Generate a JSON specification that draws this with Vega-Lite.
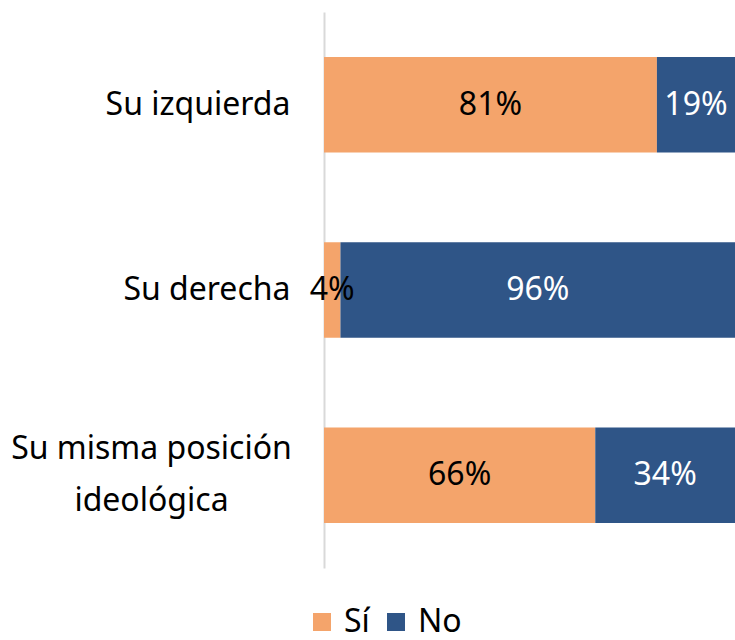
{
  "$schema": "https://vega.github.io/schema/vega-lite/v6.json",
  "autosize": "none",
  "width": 411,
  "height": 556,
  "padding": {"left": 324, "top": 12, "right": 0, "bottom": 72},
  "background": "white",
  "config": {
    "font": "Noto Sans",
    "view": {"stroke": null}
  },
  "data": {
    "values": [
      {"categoria": "Su izquierda", "respuesta": "Sí", "valor": 81},
      {"categoria": "Su izquierda", "respuesta": "No", "valor": 19},
      {"categoria": "Su derecha", "respuesta": "Sí", "valor": 4},
      {"categoria": "Su derecha", "respuesta": "No", "valor": 96},
      {"categoria": "Su misma posición ideológica", "respuesta": "Sí", "valor": 66},
      {"categoria": "Su misma posición ideológica", "respuesta": "No", "valor": 34}
    ]
  },
  "transform": [
    {"calculate": "datum.respuesta == 'Sí' ? 0 : 1", "as": "orden"},
    {"stack": "valor", "groupby": ["categoria"], "sort": [{"field": "orden"}], "as": ["x0", "x1"]},
    {"calculate": "(datum.x0 + datum.x1) / 2", "as": "xmid"},
    {"calculate": "datum.valor + '%'", "as": "etiqueta"}
  ],
  "encoding": {
    "y": {
      "field": "categoria",
      "type": "nominal",
      "sort": ["Su izquierda", "Su derecha", "Su misma posición ideológica"],
      "scale": {"paddingInner": 0.485, "paddingOuter": 0.2425},
      "axis": {
        "title": null,
        "ticks": false,
        "domainColor": "#d9d9d9",
        "domainWidth": 2,
        "labelFontSize": 32,
        "labelColor": "#000000",
        "labelPadding": {"condition": {"test": "datum.value == 'Su misma posición ideológica'", "value": 173}, "value": 34},
        "labelAlign": {"condition": {"test": "datum.value == 'Su misma posición ideológica'", "value": "center"}, "value": "right"},
        "labelOffset": {"condition": {"test": "datum.value == 'Su misma posición ideológica'", "value": -26}, "value": 0},
        "labelLineHeight": 52,
        "labelLimit": 400,
        "labelExpr": "datum.value == 'Su misma posición ideológica' ? ['Su misma posición', 'ideológica'] : datum.value"
      }
    }
  },
  "layer": [
    {
      "mark": {"type": "bar"},
      "encoding": {
        "x": {"field": "x0", "type": "quantitative", "scale": {"domain": [0, 100], "nice": false}, "axis": null},
        "x2": {"field": "x1"},
        "color": {
          "field": "respuesta",
          "type": "nominal",
          "scale": {"domain": ["Sí", "No"], "range": ["#F4A46B", "#2F5587"]},
          "legend": {
            "title": null,
            "orient": "none",
            "legendX": -18,
            "legendY": 594,
            "direction": "horizontal",
            "symbolType": "square",
            "symbolSize": 324,
            "symbolStrokeWidth": 0,
            "labelFontSize": 32,
            "labelColor": "#000000",
            "labelOffset": 6,
            "columnPadding": 10
          }
        }
      }
    },
    {
      "mark": {"type": "text", "fontSize": 32, "baseline": "middle", "align": "center"},
      "encoding": {
        "x": {"field": "xmid", "type": "quantitative"},
        "text": {"field": "etiqueta", "type": "nominal"},
        "color": {
          "condition": {"test": "datum.respuesta == 'No'", "value": "#ffffff"},
          "value": "#000000"
        }
      }
    }
  ]
}
